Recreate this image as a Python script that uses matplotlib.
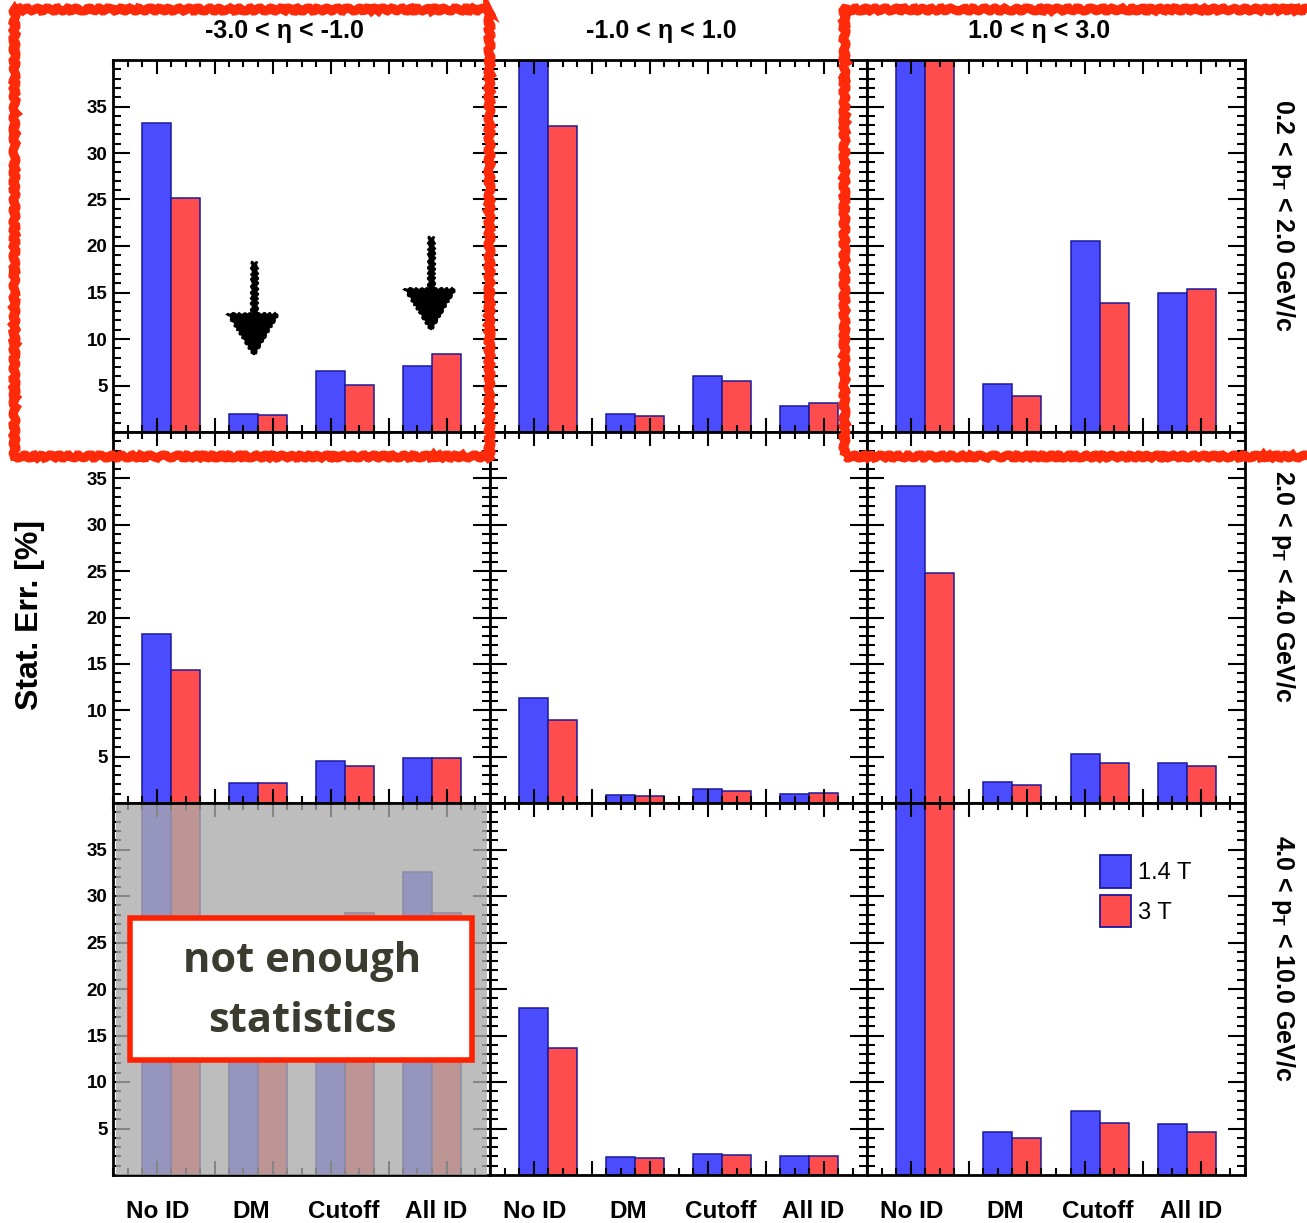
import numpy as np
import matplotlib
matplotlib.use("Agg")
import matplotlib.pyplot as plt
from matplotlib.patches import Rectangle, Polygon, Patch
from matplotlib.transforms import blended_transform_factory

plt.rcParams['font.family'] = ['Liberation Sans', 'DejaVu Sans']
plt.rcParams['font.weight'] = 'bold'
plt.rcParams['mathtext.fontset'] = 'custom'
plt.rcParams['mathtext.rm'] = 'Liberation Sans:bold'
plt.rcParams['mathtext.bf'] = 'Liberation Sans:bold'
plt.rcParams['mathtext.it'] = 'Liberation Sans:bold'

categories = ["No ID", "DM", "Cutoff", "All ID"]
col_titles = ["-3.0 < η < -1.0", "-1.0 < η < 1.0", "1.0 < η < 3.0"]
row_titles = [r"0.2 < p$_{\mathrm{T}}$ < 2.0 GeV/c",
              r"2.0 < p$_{\mathrm{T}}$ < 4.0 GeV/c",
              r"4.0 < p$_{\mathrm{T}}$ < 10.0 GeV/c"]
series_labels = ["1.4 T", "3 T"]

# values [row][col] -> list per category
blue_14T = [
    [[33.2, 1.9, 6.6, 7.1], [45.0, 1.9, 6.0, 2.8], [45.0, 5.2, 20.5, 14.9]],
    [[18.2, 2.15, 4.5, 4.8], [11.3, 0.9, 1.5, 1.0], [34.2, 2.3, 5.3, 4.3]],
    [[45.0, 22.0, 25.0, 32.6], [18.0, 1.9, 2.3, 2.0], [45.0, 4.6, 6.9, 5.5]],
]
red_3T = [
    [[25.2, 1.8, 5.1, 8.4], [32.9, 1.7, 5.5, 3.1], [45.0, 3.9, 13.9, 15.4]],
    [[14.3, 2.2, 4.0, 4.9], [8.9, 0.8, 1.3, 1.1], [24.8, 1.9, 4.3, 4.0]],
    [[45.0, 21.0, 28.2, 28.2], [13.7, 1.8, 2.1, 2.0], [45.0, 4.0, 5.6, 4.6]],
]

W, H = 1307, 1223
fig = plt.figure(figsize=(W / 100, H / 100), dpi=100)

def fx(x):
    return x / W

def fy(y):
    return 1 - y / H

xedges = [113, 490, 867, 1245]
yedges = [60, 432, 803, 1175]
BLUE = '#4C4CFF'
RED = '#FF4C4C'
EDGE = '#1a1aa0'

x = np.arange(len(categories))
bw = 1 / 3
# label positions along the axis (ROOT places them on a slightly wider grid)
label_x = -0.149 + 1.065 * np.arange(len(categories))
axes = [[None] * 3 for _ in range(3)]
for r in range(3):
    for c in range(3):
        ax = fig.add_axes([fx(xedges[c]), fy(yedges[r + 1]),
                           (xedges[c + 1] - xedges[c]) / W,
                           (yedges[r + 1] - yedges[r]) / H])
        axes[r][c] = ax
        ax.bar(x - bw / 2, blue_14T[r][c], width=bw, color=BLUE,
               edgecolor=EDGE, linewidth=1.1, zorder=2)
        ax.bar(x + bw / 2, red_3T[r][c], width=bw, color=RED,
               edgecolor=EDGE, linewidth=1.1, zorder=2)
        ax.set_xlim(-2 / 3, 3 + 2 / 3)
        ax.set_ylim(0, 40)
        ax.set_xticks(np.arange(-1 / 6, 3.7, 2 / 3))
        ax.set_xticks(np.arange(-2 / 3, 3.67, 1 / 6), minor=True)
        ax.set_yticks([5, 10, 15, 20, 25, 30, 35])
        ax.set_yticks(np.arange(1, 40, 1), minor=True)
        ax.tick_params(axis='both', which='both', direction='in',
                       top=True, right=True, width=1.5, colors='black')
        ax.tick_params(axis='x', which='major', length=10)
        ax.tick_params(axis='x', which='minor', length=5)
        ax.tick_params(axis='y', which='major', length=12)
        ax.tick_params(axis='y', which='minor', length=6)
        ax.set_xticklabels([])
        for t in ax.xaxis.get_ticklines() + ax.yaxis.get_ticklines():
            t.set_zorder(3)
        if c == 0:
            ax.tick_params(axis='y', labelsize=13.5, pad=4)
            for lab in ax.get_yticklabels():
                lab.set_fontweight('bold')
        else:
            ax.set_yticklabels([])
        for s in ax.spines.values():
            s.set_linewidth(2)
            s.set_zorder(4)
        ax.set_axisbelow(False)
        if r == 2:
            tr = blended_transform_factory(ax.transData, ax.transAxes)
            for i, cat in enumerate(categories):
                ax.text(label_x[i], -0.097, cat, transform=tr, ha='center',
                        va='center', fontsize=17.5, fontweight='bold')

# column titles
for c, t in enumerate(col_titles):
    cx = (xedges[c] + xedges[c + 1]) / 2 - 17
    fig.text(fx(cx), fy(31), t, ha='center', va='center', fontsize=18,
             fontweight='bold')
# row titles
for r, t in enumerate(row_titles):
    cy = (yedges[r] + yedges[r + 1]) / 2 - 31
    fig.text(fx(1283), fy(cy), t, ha='center', va='center', fontsize=18,
             fontweight='bold', rotation=-90)
# y label
fig.text(fx(30), fy(615), "Stat. Err. [%]", ha='center', va='center',
         fontsize=23, fontweight='bold', rotation=90)

# legend
handles = [Patch(facecolor=BLUE, edgecolor=EDGE, linewidth=1.3),
           Patch(facecolor=RED, edgecolor=EDGE, linewidth=1.3)]
leg = fig.legend(handles, series_labels, loc='upper left',
                 bbox_to_anchor=(fx(1100), fy(855)), frameon=False,
                 handlelength=1.32, handleheight=1.75,
                 handletextpad=0.3, labelspacing=0.3, borderpad=0,
                 borderaxespad=0, prop={'weight': 'normal', 'size': 17})

# grey overlay on bottom-left panel
fig.patches.append(Rectangle((fx(116), fy(1175)), (487 - 116) / W, (1175 - 805) / H,
                             transform=fig.transFigure, facecolor='#ababab',
                             alpha=0.78, edgecolor='none', zorder=5))
# text box
fig.patches.append(Rectangle((fx(130), fy(1060)), (472 - 130) / W, (1060 - 918) / H,
                             transform=fig.transFigure, facecolor='white',
                             edgecolor='#FF2200', linewidth=4, zorder=6))
fig.text(fx(302), fy(962), "not enough", ha='center', va='center',
         fontsize=30, fontweight='bold', color='#3b3b2f',
         family=['Open Sans', 'DejaVu Sans'], zorder=7)
fig.text(fx(302), fy(1021), "statistics", ha='center', va='center',
         fontsize=30, fontweight='bold', color='#3b3b2f',
         family=['Open Sans', 'DejaVu Sans'], zorder=7)

# hand-drawn red rectangles
for (x0, y0, x1, y1) in [(14, 9, 489, 456), (844, 9, 1330, 456)]:
    rect = Rectangle((fx(x0), fy(y1)), (x1 - x0) / W, (y1 - y0) / H,
                     transform=fig.transFigure, facecolor='none',
                     edgecolor='#FF2A0A', linewidth=6.5, zorder=8,
                     clip_on=False)
    rect.set_sketch_params(scale=1.5, length=12, randomness=3)
    fig.patches.append(rect)

# hand-drawn arrows
for (ax_x, y_top, y_head, y_tip) in [(254, 262, 314, 355), (431, 237, 289, 330)]:
    shaft = Rectangle((fx(ax_x - 3), fy(y_head + 2)), 6 / W, (y_head + 2 - y_top) / H,
                      transform=fig.transFigure, facecolor='black',
                      edgecolor='black', linewidth=1, zorder=8)
    shaft.set_sketch_params(scale=1, length=6, randomness=2)
    fig.patches.append(shaft)
    head = Polygon([(fx(ax_x - 26), fy(y_head)), (fx(ax_x + 24), fy(y_head)),
                    (fx(ax_x), fy(y_tip))], closed=True, transform=fig.transFigure,
                   facecolor='black', edgecolor='black', linewidth=1.5, zorder=8)
    head.set_sketch_params(scale=1, length=6, randomness=2)
    fig.patches.append(head)

fig.savefig("out.png", dpi=100)
